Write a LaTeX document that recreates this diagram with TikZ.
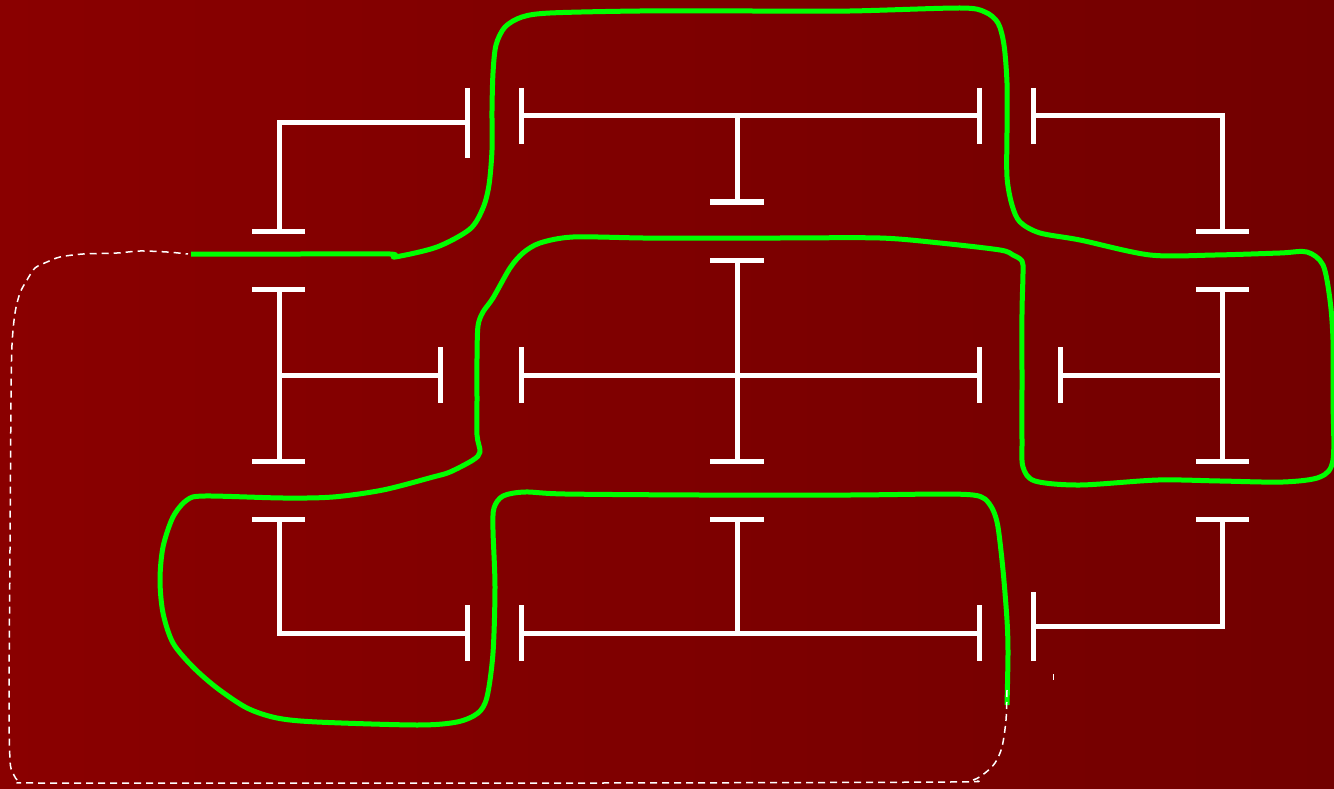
\documentclass[tikz,border=0pt]{standalone}
\definecolor{bgL}{RGB}{138,0,0}
\definecolor{bgR}{RGB}{114,0,0}
\definecolor{knot}{RGB}{0,255,0}
\begin{document}
\begin{tikzpicture}[x=1pt,y=-1pt,
  wire/.style={white,line width=5pt},
  strand/.style={knot,line width=5pt,line join=round},
  hidden/.style={white,line width=1.5pt,dash pattern=on 7pt off 5pt,line join=round}
]
% background
\shade[left color=bgL,right color=bgR] (0,0) rectangle (1334,789);
\useasboundingbox (0,0) rectangle (1334,789);

% ---- top row of terminals ----
\draw[wire] (279,231) -- (279,123) -- (467,123);
\draw[wire] (252,231) -- (305,231);
\draw[wire] (467,88) -- (467,158);
\draw[wire] (521,116) -- (979,116);
\draw[wire] (521,88) -- (521,144);
\draw[wire] (979,88) -- (979,144);
\draw[wire] (737,116) -- (737,202);
\draw[wire] (710,202) -- (764,202);
\draw[wire] (1033,116) -- (1222,116) -- (1222,231);
\draw[wire] (1033,88) -- (1033,144);
\draw[wire] (1196,231) -- (1249,231);

% ---- middle row ----
\draw[wire] (252,289) -- (305,289);
\draw[wire] (279,289) -- (279,461);
\draw[wire] (252,461) -- (305,461);
\draw[wire] (279,375) -- (440,375);
\draw[wire] (440,347) -- (440,403);
\draw[wire] (710,260) -- (764,260);
\draw[wire] (737,260) -- (737,461);
\draw[wire] (710,461) -- (764,461);
\draw[wire] (521,375) -- (979,375);
\draw[wire] (521,347) -- (521,403);
\draw[wire] (979,347) -- (979,403);
\draw[wire] (1196,289) -- (1249,289);
\draw[wire] (1222,289) -- (1222,461);
\draw[wire] (1196,461) -- (1249,461);
\draw[wire] (1060,375) -- (1222,375);
\draw[wire] (1060,347) -- (1060,403);

% ---- bottom row ----
\draw[wire] (252,519) -- (305,519);
\draw[wire] (279,519) -- (279,633) -- (467,633);
\draw[wire] (467,605) -- (467,661);
\draw[wire] (710,519) -- (764,519);
\draw[wire] (737,519) -- (737,633);
\draw[wire] (521,633) -- (979,633);
\draw[wire] (521,605) -- (521,661);
\draw[wire] (979,605) -- (979,661);
\draw[wire] (1196,519) -- (1249,519);
\draw[wire] (1222,519) -- (1222,626) -- (1033,626);
\draw[wire] (1033,592) -- (1033,661);
\draw[white,line width=1pt] (1053,674) -- (1053,680);

% ---- the closed strand (visible part) ----
\draw[strand] plot[smooth,tension=0.5] coordinates {
 (191,254) (300,254) (390,254) (395,257) (437,247) (470,229) (483,208)
 (489,185) (492,150) (492,110) (493,73) (496,45) (505,27) (522,17) (550,13)
 (640,11) (750,11) (850,11) (960,8) (985,12) (998,23) (1004,45) (1007,83)
 (1007,130) (1007,177) (1012,205) (1020,222) (1040,233) (1080,240)
 (1150,255) (1215,255) (1280,253) (1307,252) (1323,265) (1330,300)
 (1333,340) (1333,400) (1333,460) (1320,477) (1283,482) (1220,481)
 (1158,480) (1080,485) (1035,481) (1023,467) (1022,440) (1022,380)
 (1022,313) (1023,273) (1022,261) (1013,255) (1000,250) (940,243)
 (880,238) (780,238) (700,238) (643,238) (573,237) (540,243) (523,253)
 (510,268) (493,298) (483,312) (478,326) (477,358) (477,400) (477,435)
 (480,452) (473,460) (450,472) (433,477) (383,490) (333,497) (283,498)
 (205,496) (187,500) (173,517) (163,547) (160,580) (163,613) (173,643)
 (193,667) (217,688) (247,708) (277,718) (317,722) (417,725) (457,722)
 (478,713) (487,697) (493,653) (495,587) (493,530) (494,508) (503,496)
 (525,492) (565,494) (700,495) (850,495) (940,494) (973,495)
 (985,499) (993,510) (998,527) (1003,570) (1007,620) (1008,653) (1007,705)};

% ---- the closing part, dashed ----
\draw[hidden] plot[smooth,tension=0.5] coordinates {
 (1007,690) (1006,720) (1002,747) (995,763) (985,773) (973,780) (950,782)
 (600,783) (300,783) (40,783) (20,782) (13,773) (10,760) (9,700) (10,550)
 (11,400) (12,345) (15,313) (20,293) (27,280) (35,268) (47,262) (60,257)
 (83,254) (117,253) (140,251) (167,252) (188,254)};
\end{tikzpicture}
\end{document}
